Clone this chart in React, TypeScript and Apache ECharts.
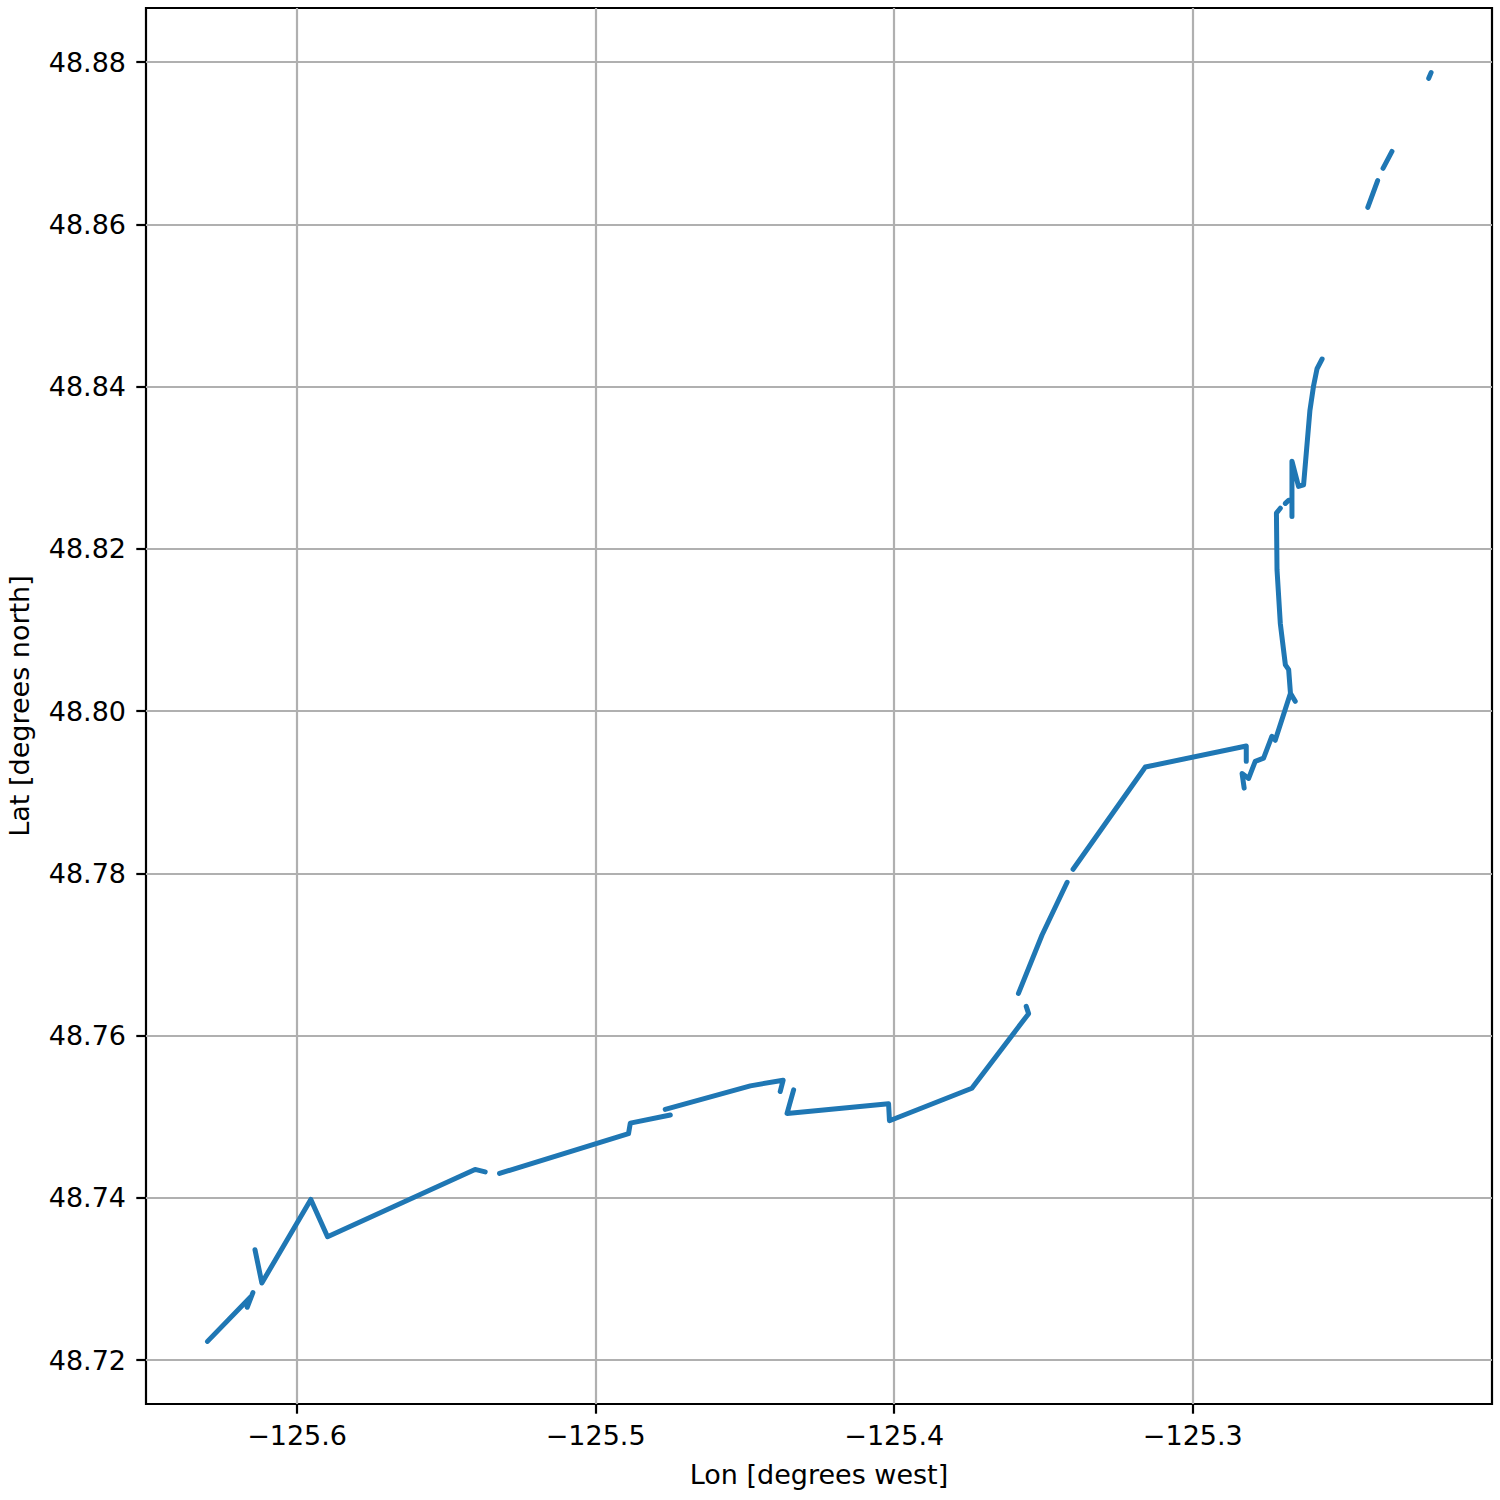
import React, { useEffect, useRef } from "react";
import * as echarts from "echarts";

// Track longitude (deg) — null marks a gap in the track
const lonValues: (number | null)[] = [
  -125.6300, -125.6155, -125.6167, -125.6148, null,
  -125.6141, -125.6118, -125.5954, -125.5898, -125.5404, -125.5370, null,
  -125.5322, -125.4890, -125.4884, -125.4750, null,
  -125.4767, -125.4482, -125.4372, -125.4382, null,
  -125.4337, -125.4359, -125.4019, -125.4016, -125.3740, -125.3550, -125.3558, null,
  -125.3584, -125.3505, -125.3421, null,
  -125.3401, -125.3159, -125.2821, -125.2821, null,
  -125.2828, -125.2835, -125.2813, -125.2791, -125.2763, -125.2735, -125.2724, -125.2673, -125.2657, -125.2673,
  -125.2679, -125.2690, -125.2707, -125.2718, -125.2720, -125.2707, null,
  -125.2690, -125.2679, -125.2668, -125.2668, -125.2668, -125.2646, -125.2629, -125.2608, -125.2596, -125.2584, -125.2567, null,
  -125.2414, -125.2381, null,
  -125.2363, -125.2333, null,
  -125.2210, -125.2202,
];

// Track latitude (deg)
const latValues: (number | null)[] = [
  48.7223, 48.7278, 48.7265, 48.7283, null,
  48.7336, 48.7295, 48.7398, 48.7352, 48.7435, 48.7432, null,
  48.7430, 48.7479, 48.7492, 48.7502, null,
  48.7509, 48.7538, 48.7545, 48.7531, null,
  48.7533, 48.7504, 48.7516, 48.7495, 48.7535, 48.7627, 48.7636, null,
  48.7652, 48.7724, 48.7789, null,
  48.7805, 48.7931, 48.7957, 48.7938, null,
  48.7905, 48.7923, 48.7917, 48.7938, 48.7942, 48.7969, 48.7964, 48.8022, 48.8012, 48.8022,
  48.8051, 48.8057, 48.8108, 48.8174, 48.8244, 48.8250, null,
  48.8256, 48.8260, 48.8260, 48.8240, 48.8308, 48.8277, 48.8279, 48.8370, 48.8400, 48.8422, 48.8434, null,
  48.8621, 48.8654, null,
  48.8669, 48.8690, null,
  48.8780, 48.8787,
];

const xTicks = [-125.6, -125.5, -125.4, -125.3];
const yTicks = [48.72, 48.74, 48.76, 48.78, 48.8, 48.82, 48.84, 48.86, 48.88];

const xRange = [-125.6506, -125.1998];
const yRange = [48.71458, 48.88667];

export default function App() {
  const ref = useRef<HTMLDivElement>(null);
  useEffect(() => {
    if (!ref.current) return;
    const chart = echarts.init(ref.current, null, { renderer: "svg" });
    const data = lonValues.map((x, i) =>
      x === null || latValues[i] === null ? ["-", "-"] : [x, latValues[i]]
    );
    const font = "DejaVu Sans";
    const tickStyle = { show: true, length: 9.7, inside: false, lineStyle: { color: "#000", width: 2.2 } };
    const gridLine = { show: true, lineStyle: { color: "#b0b0b0", width: 2.2 } };
    chart.setOption({
      animation: false,
      backgroundColor: "#fff",
      grid: {
        left: 146, right: 8, top: 8, bottom: 96,
        containLabel: false,
        outerBoundsMode: "none",
        show: true, borderColor: "#000", borderWidth: 2.2, backgroundColor: "transparent",
      },
      xAxis: {
        type: "value",
        min: xRange[0], max: xRange[1],
        name: "Lon [degrees west]",
        nameLocation: "middle",
        nameGap: 57,
        nameTextStyle: { fontFamily: font, fontSize: 27, color: "#000" },
        axisLine: { show: false },
        axisTick: { ...tickStyle, customValues: xTicks },
        splitLine: gridLine,
        axisLabel: {
          customValues: xTicks,
          margin: 18,
          fontFamily: font, fontSize: 27, color: "#000",
          formatter: (v: number) => (v < 0 ? "\u2212" : "") + Math.abs(v).toFixed(1),
        },
      },
      yAxis: {
        type: "value",
        min: yRange[0], max: yRange[1],
        name: "Lat [degrees north]",
        nameLocation: "middle",
        nameGap: 113,
        nameTextStyle: { fontFamily: font, fontSize: 27, color: "#000" },
        axisLine: { show: false },
        axisTick: { ...tickStyle, customValues: yTicks },
        splitLine: gridLine,
        axisLabel: {
          customValues: yTicks,
          margin: 20,
          fontFamily: font, fontSize: 27, color: "#000",
          formatter: (v: number) => v.toFixed(2),
        },
      },
      series: [
        {
          type: "line",
          data,
          showSymbol: false,
          connectNulls: false,
          lineStyle: { color: "#1f77b4", width: 5, cap: "round", join: "round" },
          z: 3,
        },
      ],
    });
    return () => chart.dispose();
  }, []);
  return (
    <div
      ref={ref}
      style={{ position: "fixed", left: 0, top: 0, width: 1500, height: 1500 }}
    />
  );
}
